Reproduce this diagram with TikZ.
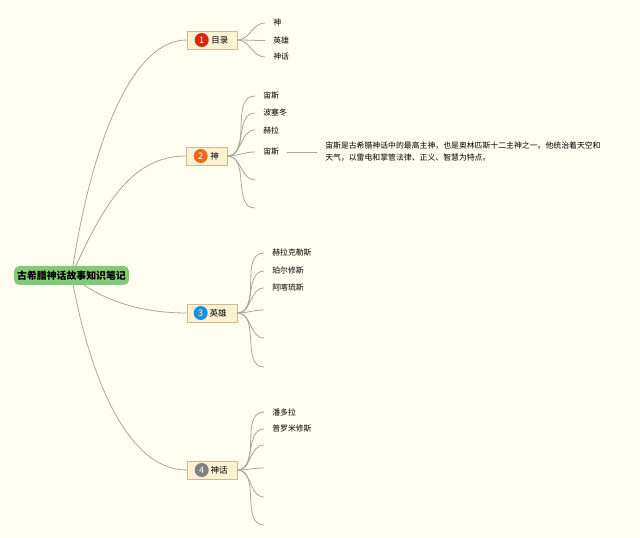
\documentclass[tikz,border=0pt]{standalone}
\usepackage{fontspec}
\setmainfont{Noto Sans CJK SC}
\usetikzlibrary{positioning,backgrounds}
\definecolor{paper}{HTML}{FEFEF0}
\definecolor{branchgray}{HTML}{A8A898}
\definecolor{rootgreen}{HTML}{84C878}
\definecolor{topicfill}{HTML}{FBF2D4}
\definecolor{topicline}{HTML}{C8BC98}
\definecolor{badgered}{HTML}{D8250E}
\definecolor{badgeorange}{HTML}{E8691C}
\definecolor{badgeblue}{HTML}{1E8FDB}
\definecolor{badgegray}{HTML}{808080}

\begin{document}
\begin{tikzpicture}[x=0.75pt,y=-0.75pt,
    root/.style={fill=rootgreen,rounded corners=4pt,minimum width=86.25pt,minimum height=14.25pt,inner sep=0pt,font=\fontsize{7.4}{8}\selectfont\bfseries},
    topic/.style={draw=topicline,fill=topicfill,minimum height=13.5pt,inner sep=0pt},
    badge/.style={circle,inner sep=0pt,minimum size=10.5pt,text=white,font=\fontsize{6.8}{7}\selectfont},
    toplabel/.style={inner sep=0pt,font=\fontsize{6.4}{7}\selectfont},
    leaf/.style={anchor=west,inner xsep=6pt,inner ysep=1pt,font=\fontsize{5.9}{7}\selectfont},
    note/.style={anchor=west,inner xsep=6pt,align=left,font=\fontsize{5.9}{9}\selectfont},
    branch/.style={draw=branchgray,line width=0.6pt}
]
\useasboundingbox (0,0) rectangle (640,538);

\node[root] (notes) at (71.5,275.5) {古希腊神话故事知识笔记};

\node[topic,minimum width=37.5pt] (mulu) at (212,40) {};
\node[badge,fill=badgered] (b1) at ([xshift=11.25pt]mulu.west) {1};
\node[toplabel,right=1.5pt of b1] {目录};

\node[topic,minimum width=30.75pt] (shen) at (206.5,156) {};
\node[badge,fill=badgeorange] (b2) at ([xshift=11.25pt]shen.west) {2};
\node[toplabel,right=1.5pt of b2] {神};

\node[topic,minimum width=37.5pt] (yingxiong) at (212,313) {};
\node[badge,fill=badgeblue] (b3) at ([xshift=10.5pt]yingxiong.west) {3};
\node[toplabel,right=1pt of b3] {英雄};

\node[topic,minimum width=37.5pt] (shenhua) at (212,470) {};
\node[badge,fill=badgegray] (b4) at ([xshift=11.25pt]shenhua.west) {4};
\node[toplabel,right=1pt of b4] {神话};

\node[leaf] (m1) at (265,23) {神};
\node[leaf] (m2) at (265,40.5) {英雄};
\node[leaf] (m3) at (265,57) {神话};

\node[leaf] (s1) at (255,96) {宙斯};
\node[leaf] (s2) at (255,113) {波塞冬};
\node[leaf] (s3) at (255,130) {赫拉};
\node[leaf] (s4) at (255,152) {宙斯};
\coordinate (s5) at (255,180);
\coordinate (s6) at (255,208);
\node[note] (zeus) at (317,152) {宙斯是古希腊神话中的最高主神，也是奥林匹斯十二主神之一。他统治着天空和\\天气，以雷电和掌管法律、正义、智慧为特点。};

\node[leaf] (y1) at (264,253) {赫拉克勒斯};
\node[leaf] (y2) at (264,271) {珀尔修斯};
\node[leaf] (y3) at (264,288) {阿喀琉斯};
\coordinate (y4) at (264,310);
\coordinate (y5) at (264,338);
\coordinate (y6) at (264,367);

\node[leaf] (h1) at (264,412) {潘多拉};
\node[leaf] (h2) at (264,429) {普罗米修斯};
\coordinate (h3) at (264,445);
\coordinate (h4) at (264,468);
\coordinate (h5) at (264,497);
\coordinate (h6) at (264,525);

\begin{scope}[on background layer]
\fill[paper] (0,0) rectangle (640,538);
\draw[branch] (notes.center) .. controls (90,150) and (130,40) .. (mulu.west);
\draw[branch] (notes.center) .. controls (102,208) and (130,156) .. (shen.west);
\draw[branch] (notes.center) .. controls (100,300) and (140,313) .. (yingxiong.west);
\draw[branch] (notes.center) .. controls (88,370) and (125,470) .. (shenhua.west);
\end{scope}

\draw[branch] (mulu.east) to[out=0,in=180] (m1.west);
\draw[branch] (mulu.east) to[out=0,in=180] (m2.west);
\draw[branch] (mulu.east) to[out=0,in=180] (m3.west);

\draw[branch] (shen.east) to[out=0,in=180] (s1.west);
\draw[branch] (shen.east) to[out=0,in=180] (s2.west);
\draw[branch] (shen.east) to[out=0,in=180] (s3.west);
\draw[branch] (shen.east) to[out=0,in=180] (s4.west);
\draw[branch] (shen.east) to[out=0,in=180] (s5);
\draw[branch] (shen.east) to[out=0,in=180] (s6);
\draw[branch] (s4.east) -- (zeus.west);

\draw[branch] (yingxiong.east) to[out=0,in=180] (y1.west);
\draw[branch] (yingxiong.east) to[out=0,in=180] (y2.west);
\draw[branch] (yingxiong.east) to[out=0,in=180] (y3.west);
\draw[branch] (yingxiong.east) to[out=0,in=180] (y4);
\draw[branch] (yingxiong.east) to[out=0,in=180] (y5);
\draw[branch] (yingxiong.east) to[out=0,in=180] (y6);

\draw[branch] (shenhua.east) to[out=0,in=180] (h1.west);
\draw[branch] (shenhua.east) to[out=0,in=180] (h2.west);
\draw[branch] (shenhua.east) to[out=0,in=180] (h3);
\draw[branch] (shenhua.east) to[out=0,in=180] (h4);
\draw[branch] (shenhua.east) to[out=0,in=180] (h5);
\draw[branch] (shenhua.east) to[out=0,in=180] (h6);
\end{tikzpicture}
\end{document}
